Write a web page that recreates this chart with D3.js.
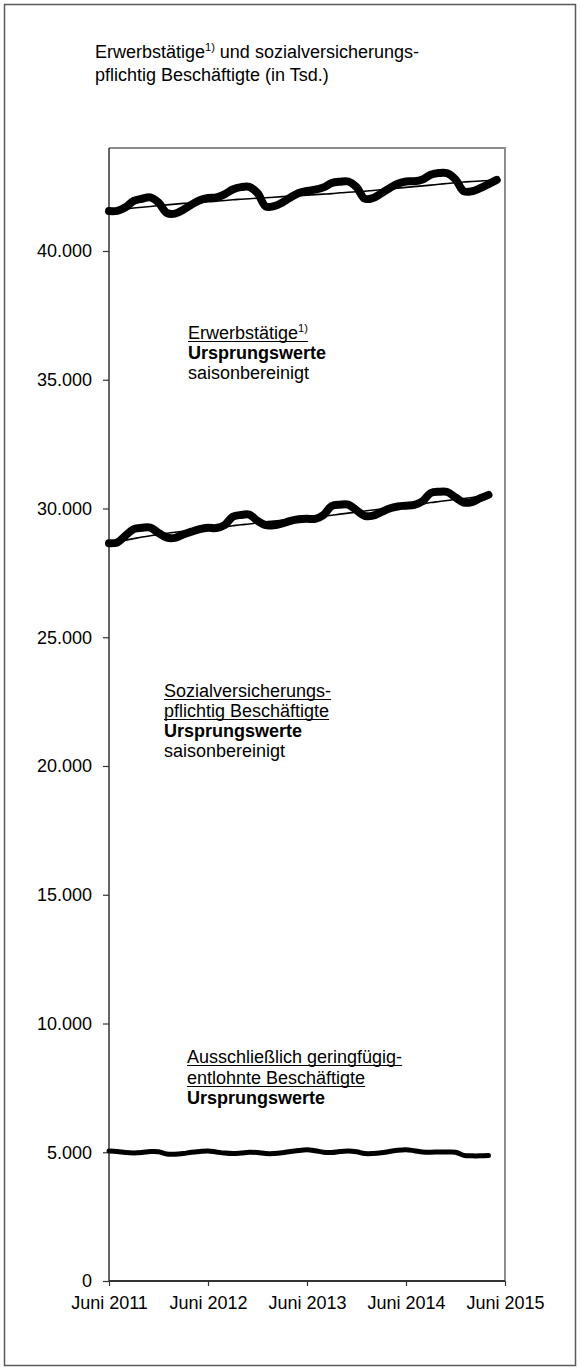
<!DOCTYPE html>
<html>
<head>
<meta charset="utf-8">
<script src="https://cdn.jsdelivr.net/npm/d3@7"></script>
<style>
  body { margin: 0; background: #fff; }
  svg { display: block; font-family: "Liberation Sans", Arial, sans-serif; }
  .axis text { font-size: 18px; fill: #000; }
  .lbl { font-size: 18px; fill: #000; }
</style>
</head>
<body>
<div id="chart"></div>
<script>
// months since Juni 2011
let months = d3.range(0, 48);
let tickMonths = [0, 12, 24, 36, 48];
let tickLabels = ["Juni 2011", "Juni 2012", "Juni 2013", "Juni 2014", "Juni 2015"];
let yTicks = [0, 5000, 10000, 15000, 20000, 25000, 30000, 35000, 40000];

// Erwerbstätige, Ursprungswerte (Jun 2011 - Mai 2015)
let erwOrig = [41550, 41560, 41700, 41950, 42030, 42080, 41880, 41480, 41450, 41600,
    41800, 41970, 42060, 42080, 42200, 42390, 42480, 42490, 42250, 41730,
    41740, 41880, 42080, 42250, 42330, 42380, 42470, 42640, 42690, 42700,
    42480, 42030, 42060, 42240, 42440, 42610, 42700, 42710, 42780, 42960,
    43030, 43020, 42780, 42320, 42320, 42440, 42600, 42760];
// Erwerbstätige, saisonbereinigt
let erwSa = [41540, 41580, 41630, 41670, 41700, 41730, 41760, 41790, 41820, 41850,
    41870, 41890, 41910, 41930, 41960, 41990, 42010, 42030, 42050, 42070,
    42090, 42110, 42130, 42150, 42170, 42190, 42210, 42230, 42260, 42280,
    42300, 42320, 42350, 42380, 42410, 42440, 42470, 42500, 42530, 42560,
    42590, 42620, 42650, 42680, 42700, 42720, 42740, 42760];

// Sozialversicherungspflichtig Beschäftigte, Ursprungswerte (Jun 2011 - Apr 2015)
let svbOrig = [28650, 28680, 28950, 29200, 29250, 29260, 29050, 28870, 28860, 28990,
    29100, 29200, 29250, 29240, 29350, 29680, 29750, 29760, 29520, 29350,
    29350, 29420, 29520, 29580, 29600, 29600, 29750, 30100, 30150, 30150,
    29930, 29710, 29720, 29860, 30000, 30080, 30110, 30140, 30280, 30600,
    30650, 30640, 30430, 30230, 30250, 30400, 30530];
// Sozialversicherungspflichtig Beschäftigte, saisonbereinigt
let svbSa = [28650, 28710, 28770, 28830, 28890, 28940, 28990, 29040, 29080, 29110,
    29150, 29190, 29220, 29260, 29290, 29330, 29370, 29400, 29440, 29480,
    29510, 29540, 29570, 29600, 29630, 29660, 29700, 29740, 29780, 29820,
    29860, 29900, 29940, 29980, 30020, 30060, 30100, 30140, 30180, 30230,
    30270, 30310, 30350, 30390, 30430, 30470, 30510];

// Ausschließlich geringfügig entlohnte Beschäftigte, Ursprungswerte
let gebOrig = [5050, 5030, 4990, 4975, 4990, 5030, 5020, 4930, 4920, 4950,
    5000, 5030, 5050, 5010, 4970, 4950, 4970, 5000, 4990, 4950,
    4950, 4980, 5030, 5070, 5100, 5060, 5000, 4990, 5030, 5050,
    5020, 4950, 4950, 4980, 5030, 5080, 5100, 5060, 5010, 5000,
    5010, 5010, 5000, 4880, 4860, 4860, 4870];

let W = 580, H = 1370;
let plot = {left: 109, right: 505, top: 148, bottom: 1281};

let svg = d3.select("#chart").append("svg")
    .attr("width", W)
    .attr("height", H);

// outer frame
svg.append("rect")
    .attr("x", 4.5).attr("y", 4.5)
    .attr("width", W - 9).attr("height", H - 9)
    .attr("fill", "none")
    .attr("stroke", "#5a5a5a")
    .attr("stroke-width", 1.5);

// title
let title = svg.append("text").attr("class", "lbl").attr("x", 95).attr("y", 58);
title.append("tspan").text("Erwerbstätige");
title.append("tspan").attr("font-size", "11px").attr("dy", -7).text("1)");
title.append("tspan").attr("dy", 7).text(" und sozialversicherungs-");
svg.append("text").attr("class", "lbl").attr("x", 95).attr("y", 81)
    .text("pflichtig Beschäftigte (in Tsd.)");

let x = d3.scaleLinear().domain([0, 48]).range([plot.left, plot.right]);
let y = d3.scaleLinear().domain([0, 44000]).range([plot.bottom, plot.top]);

let de = d3.formatLocale({decimal: ",", thousands: ".", grouping: [3], currency: ["", " €"]});
let fmt = de.format(",d");

// plot frame: top and right in grey
svg.append("path")
    .attr("d", "M" + plot.left + "," + plot.top + "H" + plot.right + "V" + plot.bottom)
    .attr("fill", "none")
    .attr("stroke", "#8c8c8c")
    .attr("stroke-width", 2);

let yAxis = svg.append("g")
    .attr("class", "axis")
    .attr("transform", "translate(" + plot.left + ",0)")
    .call(d3.axisLeft(y).tickValues(yTicks).tickFormat(fmt).tickSize(6).tickPadding(11));
yAxis.select(".domain").attr("d", "M0," + plot.top + "V" + plot.bottom)
    .attr("stroke", "#333").attr("stroke-width", 1.5);
yAxis.selectAll(".tick line").attr("stroke", "#333").attr("stroke-width", 1.2);
yAxis.selectAll(".tick text").attr("font-family", "Liberation Sans, Arial, sans-serif");

let xAxis = svg.append("g")
    .attr("class", "axis")
    .attr("transform", "translate(0," + plot.bottom + ")")
    .call(d3.axisBottom(x).tickValues(tickMonths)
        .tickFormat((d, i) => tickLabels[i]).tickSize(5).tickPadding(10));
xAxis.select(".domain").attr("d", "M" + plot.left + ",0H" + plot.right)
    .attr("stroke", "#333").attr("stroke-width", 2);
xAxis.selectAll(".tick line").attr("stroke", "#333").attr("stroke-width", 1.2);
xAxis.selectAll(".tick text").attr("font-family", "Liberation Sans, Arial, sans-serif");

let line = d3.line()
    .x((d, i) => x(months[i]))
    .y(d => y(d))
    .curve(d3.curveCatmullRom.alpha(0.5));

function drawLine (data, width) {
    svg.append("path")
        .datum(data)
        .attr("d", line)
        .attr("fill", "none")
        .attr("stroke", "#000")
        .attr("stroke-width", width)
        .attr("stroke-linecap", "round")
        .attr("stroke-linejoin", "round");
}

drawLine(erwOrig, 8);
drawLine(erwSa, 1.6);
drawLine(svbOrig, 8);
drawLine(svbSa, 1.6);
drawLine(gebOrig, 5);

// series labels
function underline (textSel) {
    let b = textSel.node().getBBox();
    let yy = +textSel.attr("y") + 2.5;
    svg.append("line")
        .attr("x1", b.x).attr("x2", b.x + b.width)
        .attr("y1", yy).attr("y2", yy)
        .attr("stroke", "#000").attr("stroke-width", 1.2);
}

let l1 = svg.append("text").attr("class", "lbl").attr("x", 188).attr("y", 339);
l1.append("tspan").text("Erwerbstätige");
l1.append("tspan").attr("font-size", "11px").attr("dy", -7).text("1)");
underline(l1);
svg.append("text").attr("class", "lbl").attr("x", 188).attr("y", 359)
    .attr("font-weight", "bold").text("Ursprungswerte");
svg.append("text").attr("class", "lbl").attr("x", 188).attr("y", 379)
    .text("saisonbereinigt");

let s1 = svg.append("text").attr("class", "lbl").attr("x", 164).attr("y", 697)
    .text("Sozialversicherungs-");
underline(s1);
let s2 = svg.append("text").attr("class", "lbl").attr("x", 164).attr("y", 717)
    .text("pflichtig Beschäftigte");
underline(s2);
svg.append("text").attr("class", "lbl").attr("x", 164).attr("y", 737)
    .attr("font-weight", "bold").text("Ursprungswerte");
svg.append("text").attr("class", "lbl").attr("x", 164).attr("y", 757)
    .text("saisonbereinigt");

let g1 = svg.append("text").attr("class", "lbl").attr("x", 187).attr("y", 1063)
    .text("Ausschließlich geringfügig-");
underline(g1);
let g2 = svg.append("text").attr("class", "lbl").attr("x", 187).attr("y", 1084)
    .text("entlohnte Beschäftigte");
underline(g2);
svg.append("text").attr("class", "lbl").attr("x", 187).attr("y", 1104)
    .attr("font-weight", "bold").text("Ursprungswerte");
</script>
</body>
</html>
